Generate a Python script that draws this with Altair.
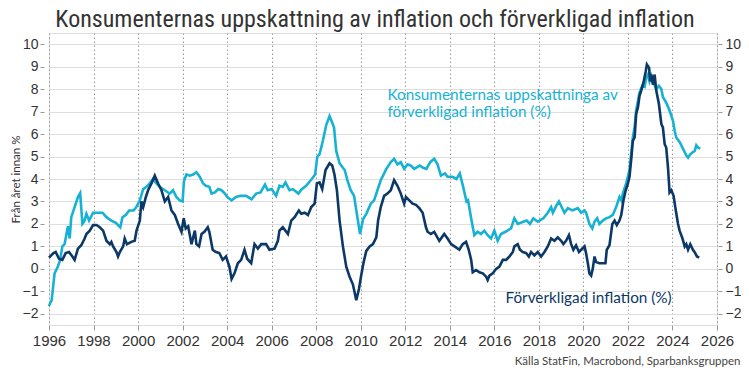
import altair as alt
import pandas as pd

# Consumers' perceived inflation (light blue)
light_years = [1996.00, 1996.06, 1996.12, 1996.25, 1996.40, 1996.50, 1996.60, 1996.70, 1996.85, 1996.93,
               1997.00, 1997.15, 1997.30, 1997.40, 1997.50, 1997.58, 1997.68, 1997.80, 1997.98, 1998.20,
               1998.40, 1998.58, 1998.80, 1999.00, 1999.20, 1999.30, 1999.45, 1999.60, 1999.80, 1999.92,
               2000.08, 2000.23, 2000.38, 2000.52, 2000.67, 2000.82, 2000.97, 2001.20, 2001.42, 2001.57,
               2001.72, 2001.87, 2002.00, 2002.06, 2002.17, 2002.32, 2002.47, 2002.62, 2002.77, 2002.92,
               2003.05, 2003.20, 2003.30, 2003.45, 2003.60, 2003.75, 2003.90, 2004.00, 2004.20, 2004.40,
               2004.60, 2004.85, 2005.10, 2005.30, 2005.50, 2005.70, 2005.82, 2006.00, 2006.20, 2006.35,
               2006.50, 2006.62, 2006.80, 2006.95, 2007.20, 2007.35, 2007.55, 2007.80, 2007.95, 2008.05,
               2008.15, 2008.30, 2008.45, 2008.60, 2008.68, 2008.80, 2008.90, 2009.05, 2009.20, 2009.28,
               2009.40, 2009.55, 2009.70, 2009.85, 2009.97, 2010.10, 2010.25, 2010.45, 2010.60, 2010.75,
               2010.90, 2011.15, 2011.35, 2011.50, 2011.65, 2011.80, 2011.95, 2012.10, 2012.25, 2012.40,
               2012.65, 2012.80, 2012.95, 2013.12, 2013.30, 2013.45, 2013.60, 2013.78, 2013.90, 2014.12,
               2014.30, 2014.45, 2014.60, 2014.75, 2014.82, 2014.95, 2015.10, 2015.25, 2015.40, 2015.55,
               2015.70, 2015.85, 2016.00, 2016.15, 2016.30, 2016.50, 2016.75, 2016.90, 2017.05, 2017.30,
               2017.45, 2017.60, 2017.75, 2017.95, 2018.20, 2018.40, 2018.55, 2018.63, 2018.78, 2018.90,
               2019.00, 2019.15, 2019.30, 2019.50, 2019.75, 2019.90, 2020.05, 2020.12, 2020.27, 2020.40,
               2020.50, 2020.62, 2020.72, 2020.87, 2021.02, 2021.17, 2021.32, 2021.47, 2021.62, 2021.70,
               2021.77, 2021.92, 2022.07, 2022.22, 2022.30, 2022.37, 2022.52, 2022.64, 2022.75, 2022.82,
               2022.90, 2022.97, 2023.05, 2023.15, 2023.27, 2023.39, 2023.50, 2023.57, 2023.72, 2023.87,
               2024.02, 2024.10, 2024.17, 2024.32, 2024.47, 2024.62, 2024.70, 2024.80, 2024.92, 2025.00,
               2025.07, 2025.15, 2025.25]
light_vals = [-1.66, -1.5, -1.4, -0.2, 0.1, 0.4, 1.0, 1.1, 1.9, 1.35,
              2.3, 2.75, 3.2, 3.37, 2.0, 2.1, 2.45, 2.15, 2.5, 2.5,
              2.5, 2.3, 2.15, 2.05, 1.85, 2.3, 2.4, 2.6, 2.6, 2.75,
              3.05, 3.55, 3.65, 3.8, 4.0, 3.8, 3.65, 3.5, 3.35, 3.5,
              3.2, 3.05, 3.0, 3.9, 4.2, 4.15, 4.2, 4.3, 4.1, 3.8,
              3.7, 3.65, 3.35, 3.4, 3.55, 3.5, 3.35, 3.2, 3.05, 3.2,
              3.25, 3.25, 3.1, 3.35, 3.4, 3.75, 3.5, 3.55, 3.25, 3.7,
              3.65, 3.85, 3.5, 3.55, 3.35, 3.55, 3.7, 4.0, 4.2, 5.0,
              5.1, 5.7, 6.4, 6.8, 6.6, 6.3, 5.25, 4.7, 4.5, 4.4,
              3.95, 3.5, 3.25, 2.3, 1.55, 2.2, 2.45, 2.9, 3.05, 3.5,
              3.95, 4.45, 4.75, 4.9, 4.65, 4.75, 4.45, 4.65, 4.6, 4.45,
              4.6, 4.5, 4.45, 4.75, 4.9, 4.65, 4.15, 4.25, 4.1, 4.1,
              4.0, 4.25, 3.65, 3.0, 3.05, 2.3, 1.5, 1.65, 1.55, 1.7,
              1.5, 1.35, 1.7, 1.25, 1.55, 1.65, 1.8, 2.25, 2.0, 2.1,
              2.15, 2.0, 2.25, 2.1, 2.25, 2.5, 2.75, 2.5, 2.8, 3.0,
              2.8, 2.5, 2.7, 2.6, 2.7, 2.5, 2.6, 2.5, 2.0, 1.8,
              2.1, 2.25, 2.0, 2.15, 2.25, 2.3, 2.4, 2.75, 3.2, 3.05,
              3.35, 3.8, 4.4, 5.85, 6.3, 7.05, 7.85, 8.15, 8.1, 8.5,
              8.65, 8.35, 8.6, 8.3, 8.0, 8.15, 8.0, 7.65, 7.4, 7.05,
              6.6, 6.15, 5.85, 5.65, 5.35, 5.05, 4.95, 5.1, 5.2, 5.25,
              5.5, 5.4, 5.35]

# Realised inflation (dark blue)
dark_years = [1996.00, 1996.20, 1996.30, 1996.45, 1996.60, 1996.75, 1996.90, 1997.05, 1997.15, 1997.30,
              1997.45, 1997.60, 1997.68, 1997.83, 1997.98, 1998.13, 1998.28, 1998.43, 1998.58, 1998.73,
              1998.80, 1998.88, 1999.03, 1999.10, 1999.18, 1999.33, 1999.40, 1999.50, 1999.70, 1999.85,
              1999.93, 2000.08, 2000.15, 2000.23, 2000.35, 2000.45, 2000.60, 2000.75, 2000.90, 2001.05,
              2001.20, 2001.35, 2001.50, 2001.65, 2001.80, 2001.95, 2002.05, 2002.14, 2002.25, 2002.40,
              2002.55, 2002.62, 2002.74, 2002.85, 2002.98, 2003.13, 2003.20, 2003.35, 2003.50, 2003.65,
              2003.80, 2003.95, 2004.10, 2004.20, 2004.33, 2004.48, 2004.63, 2004.78, 2004.90, 2005.08,
              2005.23, 2005.38, 2005.53, 2005.75, 2005.90, 2006.13, 2006.28, 2006.35, 2006.50, 2006.73,
              2006.88, 2007.03, 2007.22, 2007.33, 2007.48, 2007.63, 2007.78, 2007.93, 2008.03, 2008.15,
              2008.27, 2008.42, 2008.60, 2008.72, 2008.82, 2008.93, 2009.05, 2009.20, 2009.35, 2009.50,
              2009.65, 2009.80, 2009.92, 2010.02, 2010.12, 2010.25, 2010.40, 2010.55, 2010.70, 2010.78,
              2010.90, 2011.05, 2011.20, 2011.35, 2011.50, 2011.65, 2011.80, 2011.95, 2012.03, 2012.18,
              2012.33, 2012.48, 2012.63, 2012.78, 2012.93, 2013.00, 2013.15, 2013.30, 2013.53, 2013.75,
              2013.90, 2014.06, 2014.21, 2014.43, 2014.58, 2014.73, 2014.85, 2014.96, 2015.03, 2015.18,
              2015.33, 2015.48, 2015.63, 2015.70, 2015.78, 2015.93, 2016.08, 2016.23, 2016.38, 2016.53,
              2016.68, 2016.83, 2016.90, 2017.05, 2017.15, 2017.28, 2017.43, 2017.55, 2017.65, 2017.80,
              2017.95, 2018.10, 2018.25, 2018.40, 2018.55, 2018.70, 2018.85, 2019.00, 2019.10, 2019.22,
              2019.35, 2019.45, 2019.55, 2019.67, 2019.80, 2019.90, 2020.05, 2020.12, 2020.20, 2020.27,
              2020.35, 2020.42, 2020.50, 2020.57, 2020.72, 2020.87, 2020.99, 2021.05, 2021.17, 2021.30,
              2021.40, 2021.50, 2021.62, 2021.70, 2021.80, 2021.90, 2022.00, 2022.07, 2022.15, 2022.22,
              2022.30, 2022.37, 2022.45, 2022.52, 2022.60, 2022.70, 2022.80, 2022.85, 2022.95, 2023.00,
              2023.05, 2023.12, 2023.20, 2023.27, 2023.39, 2023.50, 2023.57, 2023.65, 2023.72, 2023.80,
              2023.87, 2023.95, 2024.05, 2024.15, 2024.25, 2024.32, 2024.45, 2024.55, 2024.62, 2024.70,
              2024.80, 2024.92, 2024.99, 2025.10, 2025.20]
dark_vals = [0.5, 0.7, 0.75, 0.45, 0.4, 0.7, 0.75, 0.55, 0.4, 0.9,
             1.05, 1.35, 1.55, 1.7, 1.95, 1.95, 1.85, 1.7, 1.25, 1.1,
             1.2, 1.0, 0.75, 0.55, 0.75, 1.0, 1.35, 1.1, 1.2, 1.25,
             1.7, 2.15, 3.0, 2.75, 3.2, 3.5, 3.8, 4.15, 3.8, 3.5,
             3.0, 3.2, 2.6, 2.4, 2.0, 1.65, 2.25, 1.8, 1.9, 1.1,
             1.7, 1.1, 1.0, 1.55, 1.65, 1.85, 1.65, 0.85, 0.75, 0.7,
             0.4, 0.55, 0.1, -0.45, -0.2, 0.25, 0.4, 0.85, 0.45, 0.25,
             1.1, 0.9, 1.1, 1.1, 0.85, 0.9, 1.25, 1.7, 1.85, 1.55,
             2.15, 2.3, 2.6, 2.45, 2.5, 2.4, 2.75, 2.9, 3.8, 3.85,
             3.55, 4.4, 4.7, 4.6, 4.2, 3.5, 2.15, 1.0, 0.1, -0.35,
             -0.7, -1.4, -0.9, -0.3, 0.25, 0.8, 1.0, 1.1, 1.4, 2.15,
             2.75, 3.25, 3.35, 3.5, 3.95, 3.7, 3.35, 2.9, 3.2, 3.05,
             2.9, 2.85, 2.7, 2.5, 1.85, 1.65, 1.55, 1.65, 1.25, 1.55,
             1.35, 1.1, 1.0, 0.85, 1.1, 1.2, 0.85, 0.4, -0.15, -0.05,
             -0.15, -0.2, -0.35, -0.5, -0.3, -0.2, 0.0, 0.1, 0.4, 0.4,
             0.55, 0.75, 1.0, 1.1, 0.85, 0.75, 0.7, 0.55, 0.75, 0.6,
             0.75, 0.55, 0.75, 1.0, 1.35, 1.25, 1.4, 1.25, 1.1, 1.25,
             1.5, 1.1, 0.85, 1.05, 0.75, 0.85, 1.0, 0.7, 0.25, -0.2,
             -0.3, 0.0, 0.55, 0.3, 0.25, 0.25, 0.25, 0.85, 1.05, 2.0,
             2.15, 1.95, 2.15, 2.4, 3.05, 3.5, 3.8, 4.1, 4.9, 5.7,
             5.85, 6.9, 7.2, 7.7, 7.95, 8.3, 8.8, 9.1, 8.95, 8.35,
             8.65, 8.2, 8.65, 7.95, 7.35, 6.45, 6.3, 5.55, 5.4, 4.5,
             3.4, 3.5, 3.25, 2.6, 2.0, 1.7, 1.35, 1.0, 1.1, 0.85,
             1.1, 0.85, 0.75, 0.55, 0.5]

y_ticks = [-2, -1, 0, 1, 2, 3, 4, 5, 6, 7, 8, 9, 10]
x_ticks = list(range(1996, 2027, 2))

title_text = "Konsumenternas uppskattning av inflation och förverkligad inflation"
y_title = "Från året innan %"
source_text = "Källa StatFin, Macrobond, Sparbanksgruppen"
light_label_1 = "Konsumenternas uppskattninga av"
light_label_2 = "förverkligad inflation (%)"
dark_label = "Förverkligad inflation (%)"

LIGHT = "#17B2D3"
DARK = "#0B3866"
TXT = "#333333"

df_light = pd.DataFrame({"year": light_years, "v": light_vals})
df_dark = pd.DataFrame({"year": dark_years, "v": dark_vals})

xscale = alt.Scale(domain=[1996, 2026], nice=False, zero=False)
yscale = alt.Scale(domain=[-2.5, 10.5], nice=False, zero=False)

x_enc = alt.X(
    "year:Q", scale=xscale,
    axis=alt.Axis(values=x_ticks, format="d", grid=True, gridDash=[1.5, 2.5], gridColor="#9a9a9a",
                  gridWidth=1, domain=False, ticks=True, tickSize=5, tickColor="#9a9a9a",
                  labelFontSize=15, labelColor=TXT, labelFont="Liberation Sans", labelPadding=3,
                  labelOverlap=False, labelFlush=False,
                  title=source_text, titleFont="Lato", titleFontSize=11.5, titleFontWeight="normal",
                  titleColor="#444444", titleAlign="right", titleAnchor="end", titleX=691, titleY=39,
                  titleBaseline="alphabetic"),
)

light = alt.Chart(df_light).mark_line(color=LIGHT, strokeWidth=2.6).encode(
    x=x_enc,
    y=alt.Y("v:Q", scale=yscale,
            axis=alt.Axis(orient="left", values=y_ticks, grid=True, gridColor="#dedede", gridWidth=1.2,
                          domain=False, tickSize=4, tickColor="#9a9a9a", offset=5,
                          labelFontSize=14, labelColor=TXT, labelFont="Liberation Sans", labelPadding=2,
                          labelOverlap=False,
                          title=y_title, titleFont="Lato", titleFontSize=11.5, titleFontWeight="normal",
                          titleColor=TXT, titlePadding=1)),
)

dark = alt.Chart(df_dark).mark_line(color=DARK, strokeWidth=2.6).encode(
    x=alt.X("year:Q", scale=xscale),
    y=alt.Y("v:Q", scale=yscale,
            axis=alt.Axis(orient="right", values=y_ticks, grid=False, domain=False, tickSize=4,
                          tickColor="#9a9a9a", offset=1, labelFontSize=14, labelColor=TXT,
                          labelFont="Liberation Sans", labelPadding=3, labelOverlap=False, title=None)),
)

def label(text, xv, yv, color):
    return alt.Chart().mark_text(text=text, color=color, font="Lato", fontSize=15.3,
                                 align="left", baseline="alphabetic").encode(
        x=alt.XDatum(xv, type="quantitative", scale=xscale),
        y=alt.YDatum(yv, type="quantitative", scale=yscale, axis=None),
    )

lab1 = label(light_label_1, 2011.2, 7.52, LIGHT)
lab2 = label(light_label_2, 2011.2, 6.76, LIGHT)
lab3 = label(dark_label, 2016.5, -1.5, DARK)

chart = alt.layer(light, dark, lab1, lab2, lab3).resolve_axis(y="independent").properties(
    width=668, height=292,
    autosize=alt.AutoSizeParams(type="none"),
    padding={"left": 41, "top": 25, "right": 24, "bottom": 42},
    title=alt.TitleParams(title_text, font="Liberation Sans Narrow, Roboto Condensed, DejaVu Sans Condensed",
                          fontSize=24, fontWeight="normal", color=TXT, anchor="middle", dx=-8,
                          offset=1),
).configure_view(stroke=None).configure(background="white")

chart.save("out.html", embed_options={"renderer": "svg", "actions": False})
